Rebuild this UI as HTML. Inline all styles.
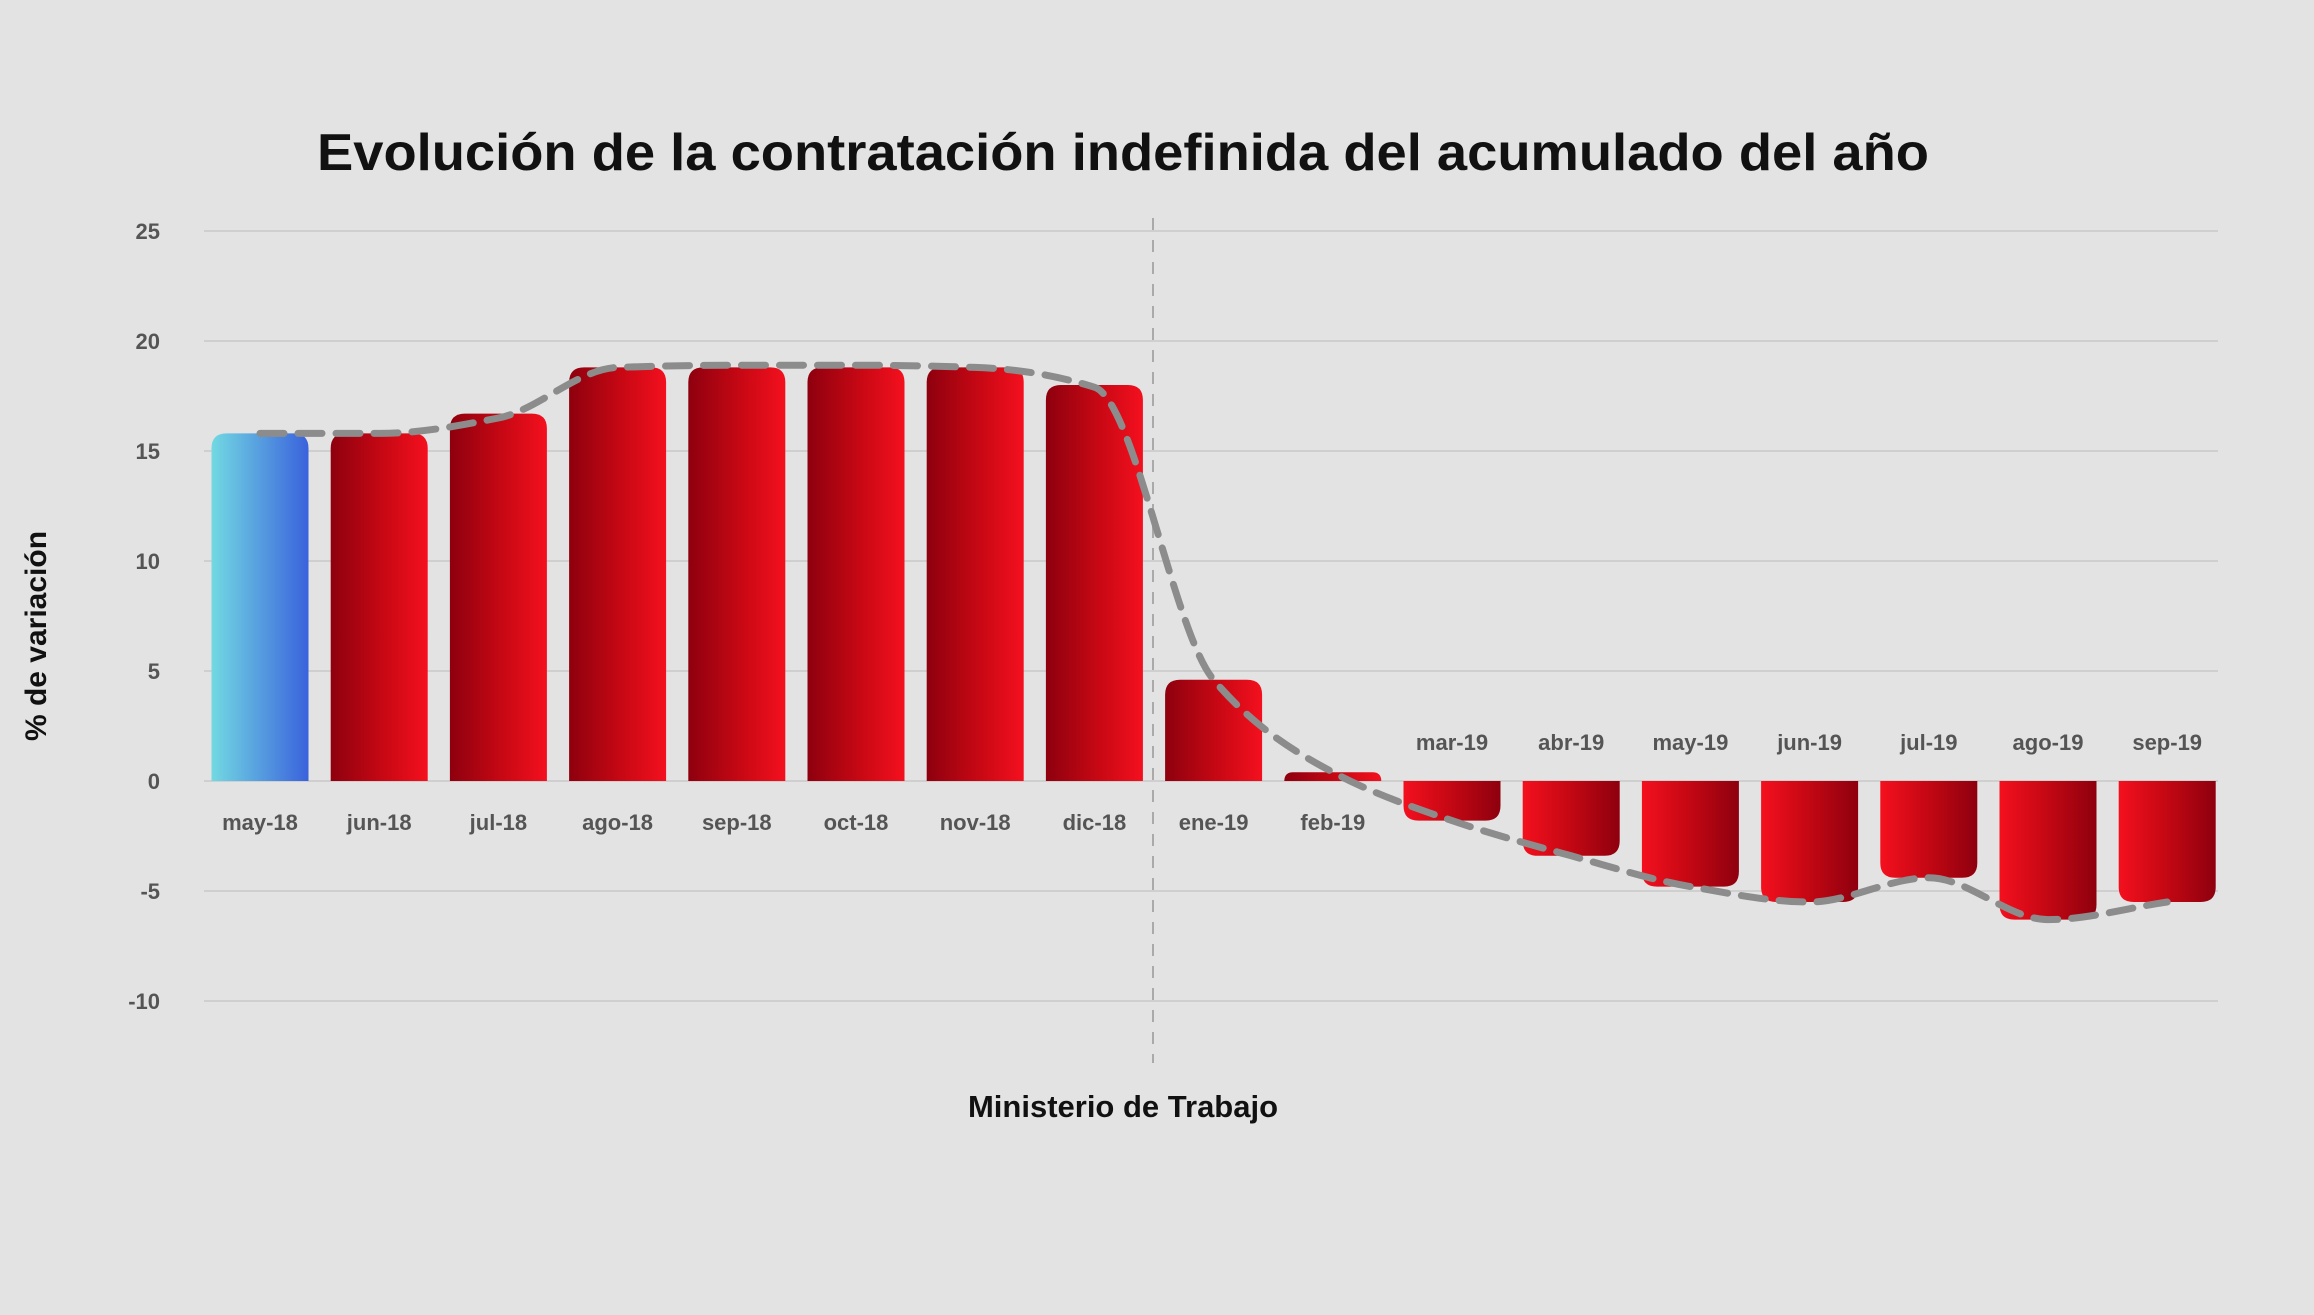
<!DOCTYPE html>
<html><head><meta charset="utf-8"><style>
html,body{margin:0;padding:0;background:#e3e3e3;}
svg{display:block;}
</style></head><body>
<svg id="chart" width="2314" height="1315" viewBox="0 0 2314 1315">
<defs>
<linearGradient id="gRed" x1="0" x2="1" y1="0" y2="0"><stop offset="0" stop-color="#8e000e"/><stop offset="0.55" stop-color="#c80814"/><stop offset="1" stop-color="#f4101e"/></linearGradient>
<linearGradient id="gRedR" x1="0" x2="1" y1="0" y2="0"><stop offset="0" stop-color="#f4101e"/><stop offset="0.45" stop-color="#c80814"/><stop offset="1" stop-color="#8e000e"/></linearGradient>
<linearGradient id="gBlue" x1="0" x2="1" y1="0" y2="0"><stop offset="0" stop-color="#72d9e2"/><stop offset="1" stop-color="#3a62dc"/></linearGradient>
</defs>
<rect width="2314" height="1315" fill="#e3e3e3"/>
<text x="1123" y="170" text-anchor="middle" font-family="Liberation Sans, sans-serif" font-size="52" font-weight="bold" fill="#111" textLength="1612" lengthAdjust="spacingAndGlyphs">Evolución de la contratación indefinida del acumulado del año</text>
<g id="grid"></g>
<g id="bars"></g>
<g id="line"></g>
<g id="labels"></g>
<text transform="translate(46,636) rotate(-90)" text-anchor="middle" font-family="Liberation Sans, sans-serif" font-size="30" font-weight="bold" fill="#111">% de variación</text>
<text x="1123" y="1117" text-anchor="middle" font-family="Liberation Sans, sans-serif" font-size="31" font-weight="bold" fill="#111">Ministerio de Trabajo</text>
</svg>
<script>
const categories=["may-18","jun-18","jul-18","ago-18","sep-18","oct-18","nov-18","dic-18","ene-19","feb-19","mar-19","abr-19","may-19","jun-19","jul-19","ago-19","sep-19"];
const values=[15.8,15.8,16.7,18.8,18.8,18.8,18.8,18.0,4.6,0.4,-1.8,-3.4,-4.8,-5.5,-4.4,-6.3,-5.5];
const trend=[15.8,15.8,16.5,18.8,18.9,18.9,18.8,17.9,4.6,0.4,-1.8,-3.4,-4.8,-5.5,-4.4,-6.3,-5.5];
const yTicks=[25,20,15,10,5,0,-5,-10];
const NS="http://www.w3.org/2000/svg";
const zeroY=781, unit=22, x0=260, step=119.2, bw=97;
function y(v){return zeroY-v*unit;}
function x(i){return x0+i*step;}
function mk(tag,attrs,parent){const e=document.createElementNS(NS,tag);for(const k in attrs)e.setAttribute(k,attrs[k]);parent.appendChild(e);return e;}
const grid=document.getElementById('grid');
yTicks.forEach(t=>{
  const l=mk('line',{x1:204,x2:2218,y1:y(t),y2:y(t),stroke:'#cfcfcf','stroke-width':2},grid);
  
  
  const tx=mk('text',{x:160,y:y(t)+8,'text-anchor':'end','font-family':'Liberation Sans, sans-serif','font-size':22,'font-weight':'bold',fill:'#555'},grid);
  tx.textContent=t;
  
  
});
const vl=mk('line',{x1:1153,x2:1153,y1:218,y2:1063,stroke:'#aaa','stroke-width':2,'stroke-dasharray':'12,10'},grid);


const bars=document.getElementById('bars'), labels=document.getElementById('labels');
const r=15;
values.forEach((v,i)=>{
  const l=x(i)-bw/2, rr=l+bw, top=y(v), h=Math.abs(top-zeroY), rad=Math.min(r,h);
  let d;
  if(v>=0) d=`M${l},${zeroY} L${l},${top+rad} Q${l},${top} ${l+rad},${top} L${rr-rad},${top} Q${rr},${top} ${rr},${top+rad} L${rr},${zeroY} Z`;
  else d=`M${l},${zeroY} L${l},${top-rad} Q${l},${top} ${l+rad},${top} L${rr-rad},${top} Q${rr},${top} ${rr},${top-rad} L${rr},${zeroY} Z`;
  const fill=i===0?'url(#gBlue)':(v>=0?'url(#gRed)':'url(#gRedR)');
  const p=mk('path',{d:d,fill:fill},bars);
  
  
  const ty=v>=0?zeroY+49:zeroY-31;
  const t=mk('text',{x:x(i),y:ty,'text-anchor':'middle','font-family':'Liberation Sans, sans-serif','font-size':22,'font-weight':'bold',fill:'#555'},labels);
  t.textContent=categories[i];
  
  
});
// monotone cubic trend line
const pts=trend.map((v,i)=>[x(i),y(v)]);
const n=pts.length, dx=step;
const sl=[];for(let i=0;i<n-1;i++)sl.push((pts[i+1][1]-pts[i][1])/dx);
const m=[];m[0]=sl[0];m[n-1]=sl[n-2];
for(let i=1;i<n-1;i++){ if(sl[i-1]*sl[i]<=0)m[i]=0; else m[i]=2/(1/sl[i-1]+1/sl[i]); }
let d=`M${pts[0][0]},${pts[0][1]}`;
for(let i=0;i<n-1;i++){
  const p1=pts[i],p2=pts[i+1];
  d+=` C${p1[0]+dx/3},${p1[1]+m[i]*dx/3} ${p2[0]-dx/3},${p2[1]-m[i+1]*dx/3} ${p2[0]},${p2[1]}`;
}
const tl=mk('path',{d:d,fill:'none',stroke:'#8c8c8c','stroke-width':7,'stroke-dasharray':'24,14','stroke-linecap':'round'},document.getElementById('line'));


</script>
</body></html>
